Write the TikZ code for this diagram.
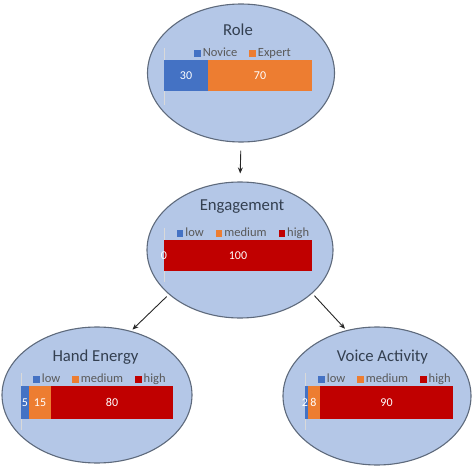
\documentclass[tikz,border=0pt]{standalone}
\usepackage{fontspec}
\setmainfont{Carlito}
\usetikzlibrary{shapes.geometric, arrows.meta, positioning}
\definecolor{cblue}{HTML}{4472C4}
\definecolor{corange}{HTML}{ED7D31}
\definecolor{cred}{HTML}{C00000}
\definecolor{cfill}{HTML}{B4C7E7}
\definecolor{cedge}{HTML}{5E6A7C}
\definecolor{ctitle}{HTML}{333F50}
\definecolor{ckey}{HTML}{595959}
\definecolor{caxis}{HTML}{D9D9D9}
\definecolor{carrow}{HTML}{262626}
\newcommand{\keybox}[1]{\textcolor{#1}{\rule{6.5pt}{6.5pt}}}
\tikzset{
  bubble/.style={ellipse, draw=cedge, fill=cfill, line width=1.1pt, inner sep=0pt},
  title/.style={font=\fontsize{16.7}{18}\selectfont, text=ctitle, anchor=base, inner sep=0pt},
  keyrow/.style={font=\fontsize{12.5}{14}\selectfont, text=ckey, anchor=base, inner sep=0pt},
  val/.style={font=\fontsize{12}{14}\selectfont, text=white, inner sep=0pt},
  axis/.style={draw=caxis, line width=0.6pt},
  link/.style={-{Stealth[length=6pt,width=5pt]}, draw=carrow, line width=0.9pt}
}

\begin{document}
\begin{tikzpicture}[x=1pt, y=-1pt]
        \useasboundingbox (0,0) rectangle (474,468);
        % Ellipses
        \node[bubble, minimum width=187pt, minimum height=138pt] (role) at (241,73) {};
        \node[bubble, minimum width=186pt, minimum height=136pt] (engage) at (240,250) {};
        \node[bubble, minimum width=190pt, minimum height=136pt] (hand) at (97,395) {};
        \node[bubble, minimum width=188pt, minimum height=138pt] (voice) at (377,396) {};
        % Arrows
        \draw[link, shorten <=8pt, shorten >=8pt] (role.south) -- (engage.north);
        \draw[link, shorten <=3pt, shorten >=2pt] (engage.212) -- (hand.62);
        \draw[link, shorten <=3pt, shorten >=2pt] (engage.329) -- (voice.115);
        % Role
        \node[title] (roletitle) at (238,36) {Role};
        \node[keyrow] (rolekey) at (242.5,57) {\keybox{cblue}\,Novice\hspace{12pt}\keybox{corange}\,Expert};
        \draw[axis] (164.5,48) -- (164.5,105);
        \fill[cblue] (164,60) rectangle (208,91);
        \fill[corange] (208,60) rectangle (312,91);
        \node[val] (rolenov) at (186,75.5) {30};
        \node[val] (roleexp) at (260,75.5) {70};
        % Engagement
        \node[title] (engtitle) at (242,211) {Engagement};
        \node[keyrow] (engkey) at (243,236.7) {\keybox{cblue}\,low\hspace{12pt}\keybox{corange}\,medium\hspace{12pt}\keybox{cred}\,high};
        \draw[axis] (164.5,228) -- (164.5,282);
        \fill[cred] (164,240) rectangle (312,271);
        \node[val] (englow) at (164,255.5) {0};
        \node[val] (enghigh) at (238,255.5) {100};
        % Hand Energy
        \node[title] (handtitle) at (95.5,361) {Hand Energy};
        \node[keyrow] (handkey) at (99.5,382.7) {\keybox{cblue}\,low\hspace{12pt}\keybox{corange}\,medium\hspace{12pt}\keybox{cred}\,high};
        \draw[axis] (21.5,373) -- (21.5,430);
        \fill[cblue] (21,386) rectangle (28.6,419);
        \fill[corange] (28.6,386) rectangle (51.4,419);
        \fill[cred] (51.4,386) rectangle (173,419);
        \node[val] (handlow) at (24.8,402.5) {5};
        \node[val] (handmed) at (40,402.5) {15};
        \node[val] (handhigh) at (112,402.5) {80};
        % Voice Activity
        \node[title] (voicetitle) at (382.5,361) {Voice Activity};
        \node[keyrow] (voicekey) at (384.5,382.7) {\keybox{cblue}\,low\hspace{12pt}\keybox{corange}\,medium\hspace{12pt}\keybox{cred}\,high};
        \draw[axis] (305.5,373) -- (305.5,430);
        \fill[cblue] (305,386) rectangle (308,419);
        \fill[corange] (308,386) rectangle (319.8,419);
        \fill[cred] (319.8,386) rectangle (453,419);
        \node[val] (voicelow) at (305,402.5) {2};
        \node[val] (voicemed) at (313.5,402.5) {8};
        \node[val] (voicehigh) at (386.5,402.5) {90};
\end{tikzpicture}
\end{document}
